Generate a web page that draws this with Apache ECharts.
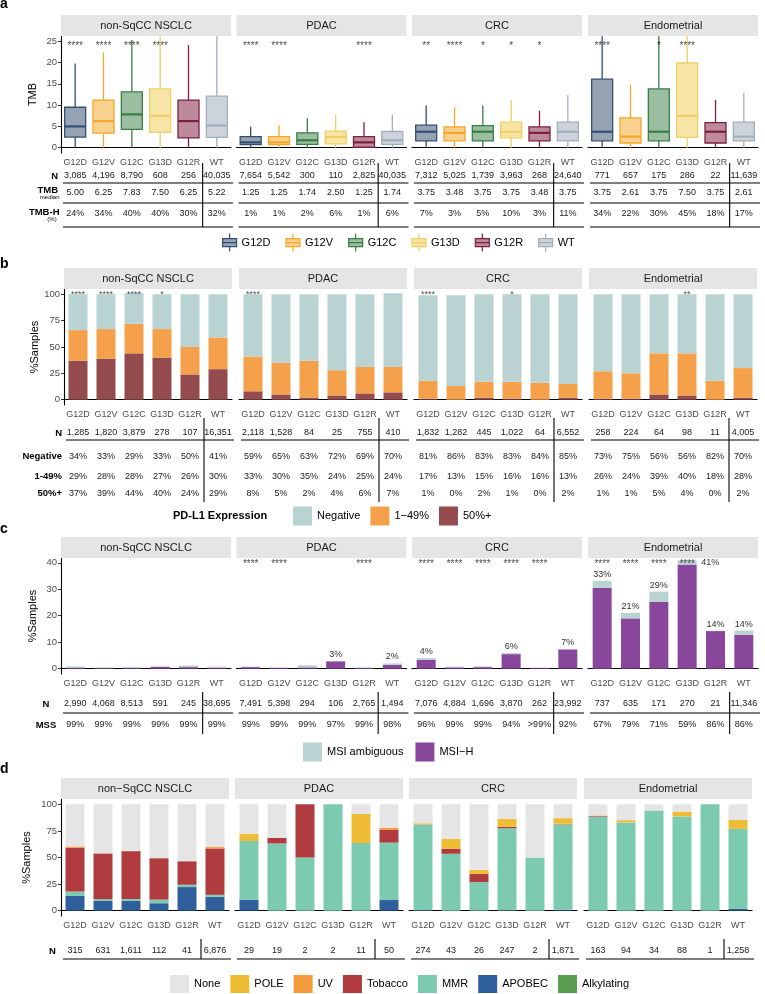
<!DOCTYPE html>
<html>
<head>
<meta charset="utf-8">
<script src="https://cdn.jsdelivr.net/npm/echarts@6/dist/echarts.min.js"></script>
<style>
html, body { margin: 0; padding: 0; background: #fff; }
#chart { width: 765px; height: 994px; }
</style>
</head>
<body>
<div id="chart"></div>
<script>
/* ---------------- data ---------------- */
const cancers = ['non-SqCC NSCLC', 'PDAC', 'CRC', 'Endometrial'];
const cancersD = ['non\u2212SqCC NSCLC', 'PDAC', 'CRC', 'Endometrial'];
const mutations = ['G12D', 'G12V', 'G12C', 'G13D', 'G12R', 'WT'];

// a: TMB boxplots, [min, q1, median, q3, max] per mutation
const tmbBox = [
  [[0, 2.5, 5.0, 9.5, 19.8], [0, 3.4, 6.25, 11.2, 22.4], [0, 4.3, 7.83, 13.1, 25.3], [0, 3.6, 7.5, 13.8, 26.2], [0, 2.3, 6.25, 11.2, 24.1], [0, 2.4, 5.22, 12.1, 26.2]],
  [[0, 0.7, 1.25, 2.6, 4.9], [0, 0.7, 1.25, 2.6, 5.3], [0, 0.8, 1.74, 3.5, 6.9], [0, 0.9, 2.5, 3.9, 7.8], [0, 0.1, 1.25, 2.6, 6.0], [0, 0.8, 1.74, 3.8, 7.8]],
  [[0, 1.6, 3.75, 5.3, 9.9], [0, 1.6, 3.48, 4.9, 9.5], [0, 1.6, 3.75, 5.2, 9.9], [0, 2.3, 3.75, 6.0, 11.2], [0, 1.6, 3.48, 4.9, 8.7], [0, 1.6, 3.75, 6.0, 12.4]],
  [[0, 1.6, 3.75, 16.1, 26.2], [0, 1.1, 2.61, 7.0, 14.8], [0, 1.6, 3.75, 13.8, 26.2], [0, 2.4, 7.5, 19.9, 26.2], [0, 1.1, 3.75, 5.9, 11.2], [0, 1.6, 2.61, 6.0, 12.9]]
];
const tmbStars = [
  ['****', '****', '****', '****', '', ''],
  ['****', '****', '', '', '****', ''],
  ['**', '****', '*', '*', '*', ''],
  ['****', '', '*', '****', '', '']
];
const tmbN = [
  ['3,085', '4,196', '8,790', '608', '256', '40,035'],
  ['7,654', '5,542', '300', '110', '2,825', '40,035'],
  ['7,312', '5,025', '1,739', '3,963', '268', '24,640'],
  ['771', '657', '175', '286', '22', '11,639']
];
const tmbMedian = [
  ['5.00', '6.25', '7.83', '7.50', '6.25', '5.22'],
  ['1.25', '1.25', '1.74', '2.50', '1.25', '1.74'],
  ['3.75', '3.48', '3.75', '3.75', '3.48', '3.75'],
  ['3.75', '2.61', '3.75', '7.50', '3.75', '2.61']
];
const tmbHigh = [
  ['24%', '34%', '40%', '40%', '30%', '32%'],
  ['1%', '1%', '2%', '6%', '1%', '6%'],
  ['7%', '3%', '5%', '10%', '3%', '11%'],
  ['34%', '22%', '30%', '45%', '18%', '17%']
];

// b: PD-L1 expression (%)
const pdl1N = [
  ['1,285', '1,820', '3,879', '278', '107', '16,351'],
  ['2,118', '1,528', '84', '25', '755', '410'],
  ['1,832', '1,282', '445', '1,022', '64', '6,552'],
  ['258', '224', '64', '98', '11', '4,005']
];
const pdl1Negative = [[34, 33, 29, 33, 50, 41], [59, 65, 63, 72, 69, 70], [81, 86, 83, 83, 84, 85], [73, 75, 56, 56, 82, 70]];
const pdl1Low = [[29, 28, 28, 27, 26, 30], [33, 30, 35, 24, 25, 24], [17, 13, 15, 16, 16, 13], [26, 24, 39, 40, 18, 28]];
const pdl1High = [[37, 39, 44, 40, 24, 29], [8, 5, 2, 4, 6, 7], [1, 0, 2, 1, 0, 2], [1, 1, 5, 4, 0, 2]];
const pdl1Stars = [
  ['****', '****', '****', '*', '', ''],
  ['****', '', '', '', '', ''],
  ['****', '', '', '*', '', ''],
  ['', '', '', '**', '', '']
];

// c: MSI status (%)
const msiN = [
  ['2,990', '4,068', '8,513', '591', '245', '38,695'],
  ['7,491', '5,398', '294', '106', '2,765', '1,494'],
  ['7,076', '4,884', '1,696', '3,870', '262', '23,992'],
  ['737', '635', '171', '270', '21', '11,346']
];
const mss = [
  ['99%', '99%', '99%', '99%', '99%', '99%'],
  ['99%', '99%', '99%', '97%', '99%', '98%'],
  ['96%', '99%', '99%', '94%', '>99%', '92%'],
  ['67%', '79%', '71%', '59%', '86%', '86%']
];
const msiHigh = [[0.4, 0.2, 0.3, 0.7, 0.6, 0.4], [0.6, 0.3, 0.5, 2.8, 0.2, 1.5], [3.4, 0.5, 0.6, 5.5, 0.3, 7.3], [30.5, 19, 25.2, 39.3, 14.2, 12.8]];
const msiAmbiguous = [[0.5, 0.3, 0.4, 0.2, 0.6, 0.4], [0.2, 0.2, 0.8, 0.1, 0.3, 0.5], [0.6, 0.3, 0.3, 0.4, 0.1, 0.2], [2.7, 2.1, 3.9, 1.5, 0, 1.6]];
const msiLabels = [
  ['', '', '', '', '', ''],
  ['', '', '', '3%', '', '2%'],
  ['4%', '', '', '6%', '', '7%'],
  ['33%', '21%', '29%', '41%', '14%', '14%']
];
const msiStars = [
  ['', '', '', '', '', ''],
  ['****', '****', '', '', '****', ''],
  ['****', '****', '****', '****', '****', ''],
  ['****', '****', '****', '****', '', '']
];

// d: mutational signatures (%)
const sigN = [
  ['315', '631', '1,611', '112', '41', '6,876'],
  ['29', '19', '2', '2', '11', '50'],
  ['274', '43', '26', '247', '2', '1,871'],
  ['163', '94', '34', '88', '1', '1,258']
];
const sigAlkylating = [[0, 0, 0, 0, 0, 0], [0, 0, 0, 0, 0, 0], [0, 0, 0, 0.4, 0, 0], [0, 0, 0, 0, 0, 0]];
const sigApobec = [[14.2, 9.2, 9.2, 7, 22.2, 13], [10.3, 0, 0, 0, 0, 10], [0.4, 0, 0, 0, 0, 1], [0, 0, 0, 0, 0, 1.6]];
const sigMmr = [[3.8, 1.6, 1.8, 3.4, 2.2, 1.9], [55.2, 63.2, 50, 100, 63.6, 54], [80.7, 53.5, 26.9, 77.1, 50, 80], [88.3, 83, 94.1, 88.6, 100, 75.3]];
const sigTobacco = [[41.2, 43, 45, 39, 22.1, 43.6], [0, 5.3, 50, 0, 0, 12], [0, 4.7, 7.7, 1.3, 0, 0.3], [0.6, 0, 0, 0, 0, 0]];
const sigUv = [[1.2, 0.2, 0, 0, 0, 1.3], [0, 0, 0, 0, 0, 2], [0.4, 0, 0, 0, 0, 0.6], [0.6, 0, 0, 0, 0, 0]];
const sigPole = [[0, 0, 0, 0, 0, 0], [6.9, 0, 0, 0, 27.3, 0], [0.7, 9.3, 3.8, 7.6, 0, 5.1], [0, 2.1, 0, 4.5, 0, 8.5]];
const sigNone = [[39.6, 46, 44, 50.6, 53.5, 40.2], [27.6, 31.5, 0, 0, 9.1, 22], [17.8, 32.5, 61.6, 13.6, 50, 13], [10.5, 14.9, 5.9, 6.9, 0, 14.6]];

/* ---------------- styles ---------------- */
const FONT = '"Liberation Sans", Arial, Helvetica, sans-serif';
const boxLine = ['#34506f', '#f4a72a', '#3a7d46', '#f0cf66', '#7c1f41', '#a3aebb'];
const boxFill = ['#95a3b5', '#f9d18f', '#9bbea1', '#f7e5a8', '#bc8a9c', '#cdd3da'];
const pdl1Colors = { 'Negative': '#b9d3d3', '1\u221249%': '#f5a04a', '50%+': '#944b4d' };
const msiColors = { 'MSI ambiguous': '#b9d3d3', 'MSI\u2212H': '#88479a' };
const sigColors = {
  'None': '#e5e5e5', 'POLE': '#efbd35', 'UV': '#f39a3b', 'Tobacco': '#b03b3e',
  'MMR': '#7ccbb0', 'APOBEC': '#2f609b', 'Alkylating': '#5b9d51'
};

// panel layout (grid boxes of each facet row)
const panels = [
  { lefts: [61, 236.5, 412, 588], width: 170, top: 36, height: 117, stripTop: 15,
    min: -1.25, max: 26.25, ticks: [0, 5, 10, 15, 20, 25], yName: 'TMB', nameGap: 23 },
  { lefts: [64, 239, 414, 589], width: 168, top: 289, height: 116, stripTop: 268,
    min: -5, max: 105, ticks: [0, 25, 50, 75, 100], yName: '%Samples', nameGap: 22 },
  { lefts: [61, 236.5, 412, 588], width: 170, top: 558, height: 116, stripTop: 537,
    min: -2, max: 41.8, ticks: [0, 10, 20, 30, 40], yName: '%Samples', nameGap: 23 },
  { lefts: [61, 235, 409, 584], width: 168, top: 799, height: 117, stripTop: 778,
    min: -5, max: 105, ticks: [0, 25, 50, 75, 100], yName: '%Samples', nameGap: 29 }
];

/* ---------------- build option ---------------- */
const grid = [], xAxis = [], yAxis = [], series = [];

panels.forEach((p, pi) => {
  p.lefts.forEach((left, f) => {
    const g = pi * 4 + f;
    grid.push({ left: left, top: p.top, width: p.width, height: p.height, outerBoundsMode: 'none' });
    xAxis.push({
      type: 'category', gridIndex: g, data: mutations,
      axisLine: { lineStyle: { color: '#000', width: 1.1 } },
      axisTick: { alignWithLabel: true, length: 3, lineStyle: { color: '#333' } },
      axisLabel: { interval: 0, fontSize: 9, color: '#4d4d4d', margin: 5, fontFamily: FONT }
    });
    yAxis.push({
      type: 'value', gridIndex: g, min: p.min, max: p.max, show: f === 0,
      splitLine: { show: false },
      axisLine: { show: true, lineStyle: { color: '#000', width: 1.1 } },
      axisTick: { show: true, length: 3, customValues: p.ticks, lineStyle: { color: '#333' } },
      axisLabel: { customValues: p.ticks, fontSize: 9.5, color: '#4d4d4d', margin: 4, fontFamily: FONT },
      name: p.yName, nameLocation: 'middle', nameGap: p.nameGap,
      nameTextStyle: { fontSize: 11, color: '#000', fontFamily: FONT }
    });
  });
});

// hidden grid that only carries the legend entries of panel a
grid.push({ left: 0, top: 0, width: 1, height: 1, show: false, outerBoundsMode: 'none' });
xAxis.push({ type: 'category', gridIndex: 16, show: false, data: [] });
yAxis.push({ type: 'value', gridIndex: 16, show: false });
mutations.forEach((m, i) => {
  series.push({
    type: 'bar', name: m, xAxisIndex: 16, yAxisIndex: 16, data: [],
    itemStyle: { color: boxFill[i], borderColor: boxLine[i], borderWidth: 1.2 }
  });
});

function starSeries(g, stars, y, size) {
  return {
    type: 'scatter', xAxisIndex: g, yAxisIndex: g, symbolSize: 1, silent: true, z: 5,
    itemStyle: { color: 'rgba(0,0,0,0)' },
    data: stars.map((s, i) => (s ? { value: [i, y], name: s } : null)).filter(Boolean),
    label: { show: true, position: 'inside', formatter: (prm) => prm.name, fontSize: size, color: '#1a1a1a', fontFamily: FONT }
  };
}

// a: boxplots drawn ggplot-style (no whisker caps)
tmbBox.forEach((boxes, f) => {
  const g = f;
  series.push({
    type: 'custom', xAxisIndex: g, yAxisIndex: g, clip: true,
    data: boxes.map((b, i) => [i].concat(b)),
    renderItem: (params, api) => {
      const i = api.value(0);
      const x = api.coord([i, 0])[0];
      const yMin = api.coord([i, api.value(1)])[1];
      const yQ1 = api.coord([i, api.value(2)])[1];
      const yMed = api.coord([i, api.value(3)])[1];
      const yQ3 = api.coord([i, api.value(4)])[1];
      const yMax = api.coord([i, api.value(5)])[1];
      const hw = 10.5;
      const c = boxLine[i];
      return {
        type: 'group',
        children: [
          { type: 'line', shape: { x1: x, y1: yMax, x2: x, y2: yQ3 }, style: { stroke: c, lineWidth: 1.3 } },
          { type: 'line', shape: { x1: x, y1: yQ1, x2: x, y2: yMin }, style: { stroke: c, lineWidth: 1.3 } },
          { type: 'rect', shape: { x: x - hw, y: yQ3, width: hw * 2, height: yQ1 - yQ3 }, style: { fill: boxFill[i], stroke: c, lineWidth: 1.3 } },
          { type: 'line', shape: { x1: x - hw, y1: yMed, x2: x + hw, y2: yMed }, style: { stroke: c, lineWidth: 2.2 } }
        ]
      };
    }
  });
  series.push(starSeries(g, tmbStars[f], 23.9, 10));
});

// b: PD-L1 stacked bars
for (let f = 0; f < 4; f++) {
  const g = 4 + f;
  [['50%+', pdl1High], ['1\u221249%', pdl1Low], ['Negative', pdl1Negative]].forEach(([name, arr]) => {
    series.push({
      type: 'bar', name: name, xAxisIndex: g, yAxisIndex: g, stack: 'b' + f, barWidth: 19,
      data: arr[f], itemStyle: { color: pdl1Colors[name] }
    });
  });
  series.push(starSeries(g, pdl1Stars[f], 99.6, 9));
}

// c: MSI stacked bars
for (let f = 0; f < 4; f++) {
  const g = 8 + f;
  series.push({
    type: 'bar', name: 'MSI\u2212H', xAxisIndex: g, yAxisIndex: g, stack: 'c' + f, barWidth: 19,
    data: msiHigh[f], itemStyle: { color: msiColors['MSI\u2212H'] }
  });
  series.push({
    type: 'bar', name: 'MSI ambiguous', xAxisIndex: g, yAxisIndex: g, stack: 'c' + f, barWidth: 19,
    data: msiAmbiguous[f].map((v, i) => (f === 3 && i === 3 ? { value: v, label: { offset: [23, 8] } } : v)),
    itemStyle: { color: msiColors['MSI ambiguous'] },
    label: {
      show: true, position: 'top', distance: 2, fontSize: 9, color: '#333', fontFamily: FONT,
      formatter: (prm) => msiLabels[f][prm.dataIndex]
    }
  });
  series.push(starSeries(g, msiStars[f], 39.3, 10));
}

// d: signature stacked bars (bottom to top)
const sigLayers = [
  ['Alkylating', sigAlkylating], ['APOBEC', sigApobec], ['MMR', sigMmr], ['Tobacco', sigTobacco],
  ['UV', sigUv], ['POLE', sigPole], ['None', sigNone]
];
for (let f = 0; f < 4; f++) {
  const g = 12 + f;
  sigLayers.forEach(([name, arr]) => {
    series.push({
      type: 'bar', name: name, xAxisIndex: g, yAxisIndex: g, stack: 'd' + f, barWidth: 19,
      data: arr[f], itemStyle: { color: sigColors[name] }
    });
  });
}

const boxIcon = 'path://M0,5L14,5L14,13L0,13ZM0,9L14,9M7,0L7,5M7,13L7,18';
const legendText = { fontSize: 11, color: '#000', fontFamily: FONT };

const option = {
  animation: false,
  backgroundColor: '#fff',
  textStyle: { fontFamily: FONT },
  title: [
    { text: 'a', left: 0, top: -3, padding: 0, textStyle: { fontSize: 14, fontWeight: 'bold', color: '#000', fontFamily: FONT } },
    { text: 'b', left: 0, top: 257, padding: 0, textStyle: { fontSize: 14, fontWeight: 'bold', color: '#000', fontFamily: FONT } },
    { text: 'c', left: 0, top: 522, padding: 0, textStyle: { fontSize: 14, fontWeight: 'bold', color: '#000', fontFamily: FONT } },
    { text: 'd', left: 0, top: 762, padding: 0, textStyle: { fontSize: 14, fontWeight: 'bold', color: '#000', fontFamily: FONT } },
    { text: 'PD-L1 Expression', left: 173, top: 510, padding: 0, textStyle: { fontSize: 11, fontWeight: 'bold', color: '#000', fontFamily: FONT } }
  ],
  legend: [
    {
      data: mutations.map((m) => ({ name: m, icon: boxIcon })),
      left: 222, top: 233, orient: 'horizontal', padding: 0,
      itemWidth: 14, itemHeight: 18, itemGap: 15, selectedMode: false,
      itemStyle: { borderColor: 'inherit', borderWidth: 1.2 },
      textStyle: legendText
    },
    {
      data: ['Negative', '1\u221249%', '50%+'], icon: 'rect',
      left: 293, top: 506.5, padding: 0, itemWidth: 19, itemHeight: 19, itemGap: 10, selectedMode: false,
      itemStyle: { borderWidth: 0 }, textStyle: legendText
    },
    {
      data: ['MSI ambiguous', 'MSI\u2212H'], icon: 'rect',
      left: 303, top: 742.5, padding: 0, itemWidth: 19, itemHeight: 19, itemGap: 12, selectedMode: false,
      itemStyle: { borderWidth: 0 }, textStyle: legendText
    },
    {
      data: ['None', 'POLE', 'UV', 'Tobacco', 'MMR', 'APOBEC', 'Alkylating'], icon: 'rect',
      left: 170, top: 975, padding: 0, itemWidth: 19, itemHeight: 18, itemGap: 10, selectedMode: false,
      itemStyle: { borderWidth: 0 }, textStyle: legendText
    }
  ],
  grid: grid,
  xAxis: xAxis,
  yAxis: yAxis,
  series: series
};

const chart = echarts.init(document.getElementById('chart'));
chart.setOption(option);

/* ---------------- strips and tables (positions from the axes) ---------------- */
const gfx = [];
function text(x, y, str, opt) {
  gfx.push({
    type: 'text', x: x, y: y, silent: true, z: 10,
    style: Object.assign({ text: str, fontSize: 9, fill: '#1a1a1a', align: 'center', verticalAlign: 'middle', fontFamily: FONT }, opt || {})
  });
}
function hline(x1, x2, y) {
  gfx.push({ type: 'line', silent: true, z: 10, shape: { x1: x1, y1: y, x2: x2, y2: y }, style: { stroke: '#000', lineWidth: 1.1 } });
}
function vline(x, y1, y2) {
  gfx.push({ type: 'line', silent: true, z: 10, shape: { x1: x, y1: y1, x2: x, y2: y2 }, style: { stroke: '#000', lineWidth: 1.1 } });
}
function colX(g, i) {
  return chart.convertToPixel({ xAxisIndex: g }, i);
}
function tableRow(pi, y, rows) {
  rows.forEach((row, f) => row.forEach((v, i) => text(colX(pi * 4 + f, i), y, v)));
}

panels.forEach((p, pi) => {
  p.lefts.forEach((left, f) => {
    gfx.push({ type: 'rect', silent: true, z: 1, shape: { x: left, y: p.stripTop, width: p.width, height: p.top - p.stripTop }, style: { fill: '#e5e5e5' } });
    text(left + p.width / 2, (p.stripTop + p.top) / 2 + 0.5, (pi === 3 ? cancersD : cancers)[f], { fontSize: 11, fill: '#1a1a1a' });
  });
});

const bold = { fontWeight: 'bold', fontSize: 9.5, fill: '#000', align: 'right' };
// table a
text(58, 176, 'N', bold);
text(58, 190, 'TMB', bold);
text(59.5, 197.5, 'median', { fontSize: 6, fill: '#000', align: 'right' });
text(59.5, 212, 'TMB-H', bold);
text(52, 219, '(%)', { fontSize: 6, fill: '#000' });
tableRow(0, 176, tmbN);
tableRow(0, 192.5, tmbMedian);
tableRow(0, 214, tmbHigh);
// table b
text(62, 433, 'N', bold);
text(62, 456.7, 'Negative', bold);
text(62, 476.7, '1-49%', bold);
text(62, 493.3, '50%+', bold);
tableRow(1, 433, pdl1N);
tableRow(1, 456.7, pdl1Negative.map((r) => r.map((v) => v + '%')));
tableRow(1, 476.7, pdl1Low.map((r) => r.map((v) => v + '%')));
tableRow(1, 493.3, pdl1High.map((r) => r.map((v) => v + '%')));
// table c
text(46, 704, 'N', Object.assign({}, bold, { align: 'center' }));
text(46, 725, 'MSS', Object.assign({}, bold, { align: 'center' }));
tableRow(2, 704, msiN);
tableRow(2, 725, mss);
// table d
text(52.5, 951, 'N', Object.assign({}, bold, { align: 'center' }));
tableRow(3, 951, sigN);

// rules
const ruleRows = [
  { h: [183, 203, 227], v: [163, 227] },
  { h: [440], v: [418, 502] },
  { h: [713], v: [692, 734] },
  { h: [959], v: [939, 959] }
];
panels.forEach((p, pi) => {
  p.lefts.forEach((left, f) => {
    const g = pi * 4 + f;
    ruleRows[pi].h.forEach((y) => hline(left + 2, left + p.width + 2, y));
    vline((colX(g, 4) + colX(g, 5)) / 2, ruleRows[pi].v[0], ruleRows[pi].v[1]);
  });
});

chart.setOption({ graphic: gfx });
</script>
</body>
</html>
